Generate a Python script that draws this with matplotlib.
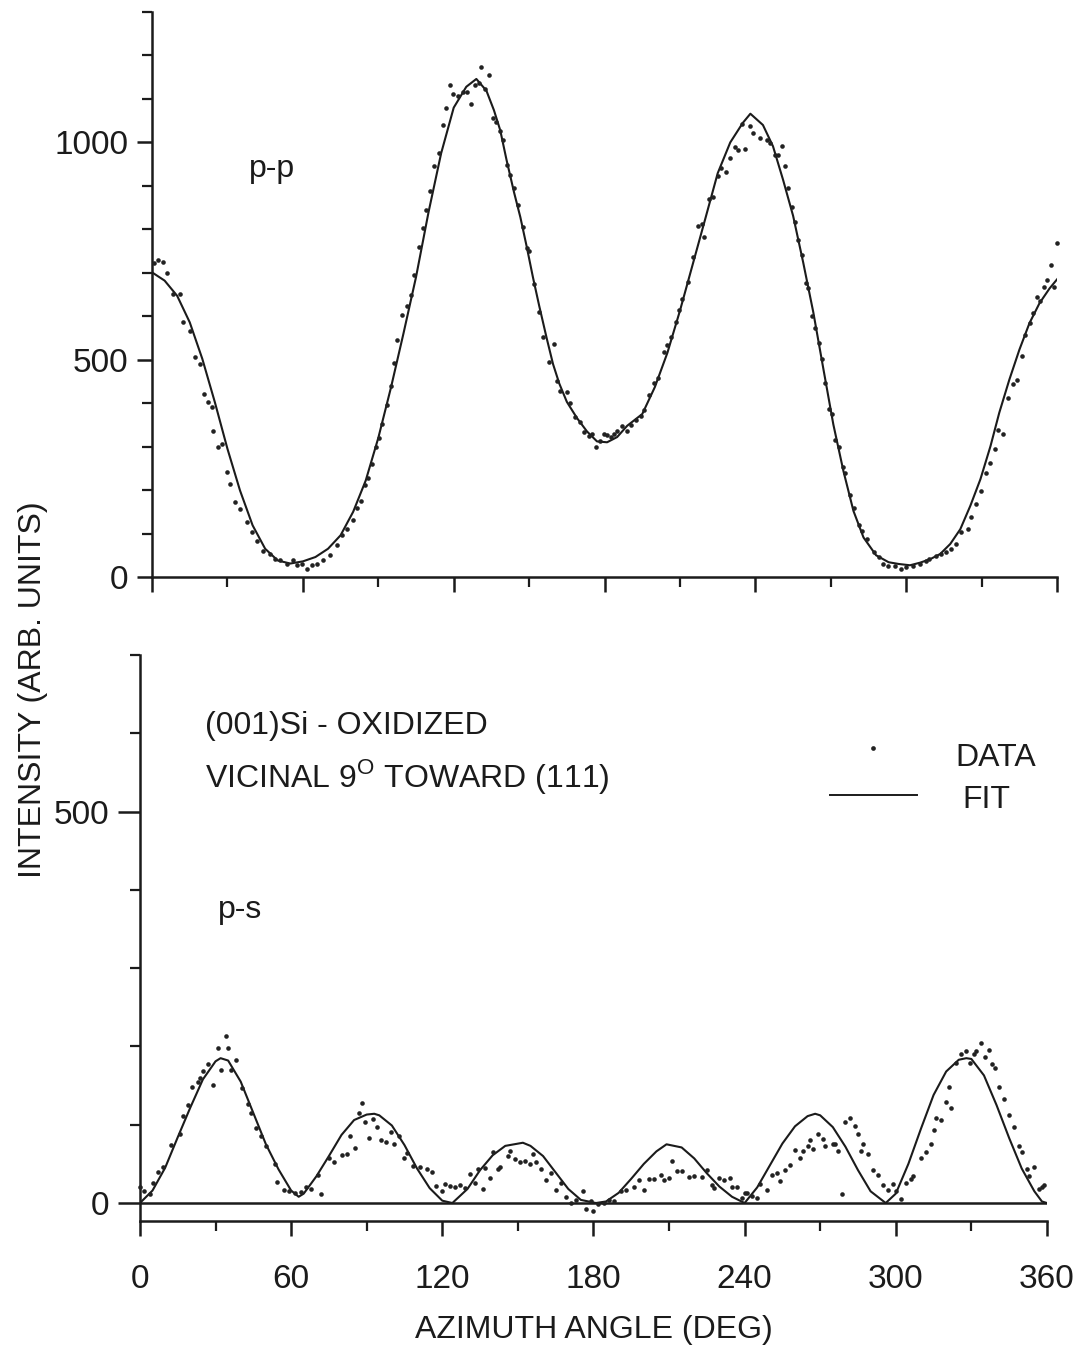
import matplotlib

matplotlib.use("Agg")
import matplotlib.pyplot as plt
from matplotlib.lines import Line2D
from matplotlib.ticker import MultipleLocator

# ---- p-p panel: measured points and fit -----------------------------------
PP_ANGLE = [
    0.7, 2.5, 4.5, 6, 8.5, 11, 12.5, 15, 17, 19, 20.5, 22.4, 23.7, 24.4, 26.4, 27.7,
    29.7, 31, 33, 35, 37.7, 39.6, 41.6, 44, 47, 49, 51, 53.6, 56, 57.6, 59.5, 61.5,
    63.5, 65.5, 68, 70.8, 73.5, 75.5, 77.5, 80, 81.6, 83, 84.6, 86, 87.5, 89,
    90.3, 91.6, 93.6, 95, 96.3, 97.6, 99.6, 101.6, 103, 104.3, 106, 107.6, 109,
    110.7, 112, 114, 115.6, 117, 118.4, 119.7, 121.7, 123.7, 125.3, 126.7, 128.4,
    130, 131, 132.4, 134, 135.5, 137, 138.4, 139.7, 141, 142.4, 144, 145.7, 147.5,
    149, 150, 152, 154, 155.7, 158, 159.7, 161, 162.4, 165, 166.4, 168.4, 170.4,
    171.7, 173.7, 175, 176.7, 178, 179.7, 181, 182.7, 183.7, 185, 187, 188.8,
    190.4, 192.4, 194.4, 195.7, 197.7, 199.7, 201.3, 203.5, 205, 206.4, 208.4,
    209.7, 211, 213, 215, 217, 218.8, 219.7, 221.7, 223, 225, 226.4, 228.4, 230,
    231.9, 233.2, 234.5, 235.9, 237.9, 239.2, 241.9, 244.5, 245.8, 247.8, 249.1,
    250.5, 251.8, 253.1, 254.4, 255.8, 257.1, 258.4, 260.2, 261.1, 262.4, 263.8,
    265.1, 266.4, 267.8, 269.1, 270.4, 271.8, 273.1, 274.8, 275.8, 277.5, 279.1,
    281.1, 282.5, 284.5, 287.1, 289.1, 290.7, 292.7, 295.4, 298, 300, 302.6,
    305.3, 307.9, 309.2, 311.9, 313.9, 315.9, 317.9, 319.9, 321.9, 324.6, 325.9,
    327.9, 329.9, 331.9, 333.5, 335.2, 336.6, 338.6, 340.6, 342.5, 343.9, 345.9,
    347.2, 349.2, 350.6, 351.9, 353.3, 354.6, 356, 357.4, 358.7, 360,
]
PP_DATA = [
    722, 730, 724, 700, 651, 651, 586, 567, 506, 490, 421, 402, 391, 337, 299, 307,
    241, 215, 172, 157, 126, 103, 84, 61, 54, 42, 38, 31, 38, 27, 30, 19,
    28, 31, 38, 50, 73, 96, 111, 132, 158, 176, 211, 228, 259, 299,
    321, 351, 395, 439, 492, 545, 602, 624, 650, 694, 760, 804, 844,
    888, 945, 976, 1039, 1079, 1132, 1112, 1107, 1116, 1117, 1089, 1133,
    1137, 1174, 1124, 1154, 1057, 1047, 1026, 1006, 947, 925, 894, 855, 806,
    758, 749, 675, 610, 552, 495, 535, 451, 429, 426, 400, 369, 356,
    334, 325, 329, 299, 313, 330, 326, 323, 330, 335, 348, 335,
    349, 362, 371, 384, 419, 446, 459, 517, 534, 552, 587,
    614, 640, 679, 737, 808, 812, 782, 869, 874, 922, 940, 931, 963,
    990, 982, 1043, 985, 1037, 1021, 1009, 1006, 998, 971, 971,
    991, 945, 894, 852, 818, 776, 742, 677, 665, 601, 573,
    539, 501, 447, 386, 375, 315, 299, 254, 239, 189, 158,
    120, 105, 88, 57, 46, 30, 26, 26, 18, 22, 26,
    30, 37, 41, 49, 53, 57, 64, 76, 103, 110, 137,
    167, 198, 240, 262, 294, 339, 328, 411, 443, 454, 508,
    557, 584, 607, 645, 635, 668, 683, 718, 668, 768,
]
PP_FIT_ANGLE = [
    0, 5, 10, 15, 20, 25, 30, 35, 40, 45, 50, 55, 60, 65, 70, 75, 80, 85, 90, 95,
    100, 105, 110, 115, 120, 125, 129, 133, 136, 138.5, 141, 144, 146.5, 149,
    151.5, 154, 157, 159.5, 162, 165, 169, 173, 177, 181, 185, 189, 195, 200,
    205, 210, 215, 220, 225, 230, 235, 238, 243, 247, 251, 255, 259, 263, 267,
    271, 275, 279, 283, 288, 293, 297, 301.5, 305.5, 309.5, 313.5, 317.5, 321.5,
    325.5, 329.5, 333.5, 337, 341, 345, 349, 353, 357, 360,
]
PP_FIT = [
    701, 682, 647, 586, 502, 402, 295, 199, 119, 65, 38, 31, 36, 46, 65, 96, 150, 222, 320, 435,
    560, 690, 840, 975, 1080, 1128, 1146, 1119, 1074, 1028, 960, 885, 828, 761,
    690, 624, 549, 490, 445, 403, 366, 335, 312, 310, 322, 348, 375, 437,
    516, 613, 718, 823, 929, 1000, 1045, 1066, 1040, 991, 914, 831, 724, 610, 480,
    351, 244, 152, 91, 50, 34, 30, 27, 33, 41, 53, 76, 110,
    164, 225, 301, 378, 454, 523, 584, 630, 664, 685,
]

# ---- p-s panel: measured points and fit -----------------------------------
PS_ANGLE = [
    0, 1.5, 4, 5, 7, 9, 12.5, 16, 17, 19, 20.5, 23, 24, 25, 27, 29, 31, 32, 34, 35,
    36, 38, 40.5, 43, 44, 46, 48, 50, 53.5, 54.5, 57, 59, 61.5, 64, 66, 68, 70.5,
    72, 75, 77, 80, 82, 83.5, 85.5, 87, 88, 89.5, 91, 92.5, 94, 95.5, 97.5, 99.5,
    101, 103, 105, 106, 108.5, 111, 114, 116, 117.5, 120, 121, 123, 125, 127, 129,
    131, 133, 134, 136, 137, 139, 140, 142, 143, 146, 147, 149, 151, 153, 155,
    156, 157, 159, 161, 163, 165, 167, 169, 171, 173, 176, 177, 179, 180, 182,
    184, 186, 188, 191, 193, 196, 198, 200, 202, 204, 207, 208, 210, 211, 213,
    215, 218, 220, 223, 225, 227, 228, 230, 232, 234, 235, 237, 239, 240, 241,
    243, 245, 246, 249, 251, 253, 254, 256, 258, 260, 262, 263, 265, 266, 267,
    269, 271, 272, 275, 276, 277, 278.5, 280, 282, 284, 285, 286, 287, 289, 291,
    293, 295, 297, 299, 300, 302, 304, 306, 307, 310, 312, 314, 315, 316, 318,
    320, 321, 322, 324, 326, 328, 329.5, 331, 332, 334, 335.5, 337, 338, 339.5,
    341, 343, 345, 347, 349, 350, 352, 353, 355, 357, 358, 359,
]
PS_DATA = [
    20, 15, 12, 25, 40, 46, 74, 88, 111, 125, 148, 154, 160, 168, 177, 151, 198, 170, 213, 198,
    170, 183, 147, 126, 115, 96, 86, 73, 50, 27, 17, 15, 13, 14, 20, 18, 36,
    12, 57, 52, 61, 63, 85, 70, 115, 128, 103, 83, 107, 97, 80, 78, 91,
    76, 85, 57, 64, 47, 46, 44, 39, 22, 15, 24, 22, 20, 23, 19,
    37, 26, 44, 18, 45, 32, 65, 44, 46, 60, 66, 56, 52, 54, 50,
    63, 52, 44, 29, 38, 16, 25, 8, 0, 4, 15, -8, 3, -10, -1,
    0, 4, 2, 15, 17, 20, 29, 16, 31, 31, 36, 30, 32, 54, 41,
    41, 33, 35, 33, 42, 23, 19, 32, 30, 32, 21, 20, 6, 13, 13,
    9, 7, 24, 17, 36, 38, 28, 42, 48, 68, 57, 66, 73, 80, 69,
    88, 82, 73, 76, 76, 66, 12, 103, 109, 99, 88, 67, 76, 63, 42,
    36, 23, 17, 24, 15, 5, 26, 31, 35, 57, 65, 76, 93, 108, 106,
    129, 148, 121, 179, 190, 194, 179, 190, 194, 205, 187, 196, 178, 172,
    148, 133, 112, 97, 73, 65, 43, 35, 46, 18, 20, 23,
]
PS_FIT_ANGLE = [
    0, 5, 10, 15, 20, 25, 30, 32, 35, 40, 45, 50, 55, 60, 63, 65, 70, 75, 80, 85,
    90, 93, 95, 100, 105, 110, 115, 120, 124, 130, 135, 140, 145, 152, 155, 160,
    165, 170, 175, 181, 185, 190, 195, 200, 205, 209, 215, 220, 225, 230, 235,
    240, 245, 250, 255, 260, 265, 268, 270, 275, 280, 285, 290, 296, 300, 305,
    310, 315, 320, 325, 328, 330, 335, 340, 345, 350, 355, 358, 360,
]
PS_FIT = [
    0, 16, 45, 84, 122, 158, 181, 185, 182, 155, 115, 75, 43, 16, 8, 12, 34, 60, 87, 106,
    113, 114, 112, 99, 74, 44, 19, 3, 0, 18, 42, 61, 73, 77, 73, 60,
    39, 18, 4, 0, 2, 13, 31, 50, 66, 75, 71, 57, 38, 21, 8,
    0, 20, 48, 76, 98, 111, 114, 112, 97, 72, 42, 15, 0, 12, 50,
    95, 138, 168, 183, 185, 184, 163, 125, 83, 44, 15, 2, 0,
]

INK = "#1b1b1b"
DOT = "#222222"
FONT = 23

plt.rcParams.update(
    {
        "font.family": ["Liberation Sans", "DejaVu Sans"],
        "mathtext.fontset": "custom",
        "mathtext.rm": "Liberation Sans",
        "axes.edgecolor": INK,
        "axes.linewidth": 1.8,
        "xtick.color": INK,
        "ytick.color": INK,
        "xtick.labelcolor": INK,
        "ytick.labelcolor": INK,
    }
)

fig = plt.figure(figsize=(10.79, 13.51), dpi=100)
fig.patch.set_facecolor("white")

ax_pp = fig.add_axes([0.1409, 0.5729, 0.8388, 0.4182])
ax_ps = fig.add_axes([0.1297, 0.0962, 0.8406, 0.4190])


def style_axes(ax):
    for s in ("top", "right"):
        ax.spines[s].set_visible(False)
    ax.set_xlim(0, 360)
    ax.xaxis.set_major_locator(MultipleLocator(60))
    ax.xaxis.set_minor_locator(MultipleLocator(30))
    ax.yaxis.set_major_locator(MultipleLocator(500))
    ax.yaxis.set_minor_locator(MultipleLocator(100))
    ax.tick_params(axis="both", which="major", direction="out", length=11, width=1.8,
                   labelsize=24)
    ax.tick_params(axis="both", which="minor", direction="out", length=7, width=1.6)
    ax.tick_params(axis="y", which="major", pad=6)


# --- p-p ------------------------------------------------------------------
style_axes(ax_pp)
ax_pp.set_ylim(0, 1300)
ax_pp.plot(PP_FIT_ANGLE, PP_FIT, color=INK, lw=1.5, zorder=3)
ax_pp.plot(PP_ANGLE, PP_DATA, "o", ms=3.3, color=DOT, mec="none",
           clip_on=False, zorder=4)
ax_pp.tick_params(axis="x", labelbottom=False)
ax_pp.text(0.1326, 0.722, "p-p", transform=ax_pp.transAxes, fontsize=FONT,
           ha="center", va="center", color=INK)

# --- p-s ------------------------------------------------------------------
style_axes(ax_ps)
ax_ps.set_ylim(-23, 700)
ax_ps.axhline(0, color=INK, lw=1.8, zorder=2)
ax_ps.plot(PS_FIT_ANGLE, PS_FIT, color=INK, lw=1.5, zorder=3)
ax_ps.plot(PS_ANGLE, PS_DATA, "o", ms=3.3, color=DOT, mec="none",
           clip_on=False, zorder=4)
ax_ps.set_yticks([0, 500])
ax_ps.tick_params(axis="y", which="major", length=16)
ax_ps.tick_params(axis="x", which="major", pad=20)
ax_ps.set_xlabel("AZIMUTH ANGLE (DEG)", fontsize=FONT, color=INK, labelpad=14)

fig.text(0.19, 0.4567, "(001)Si - OXIDIZED", fontsize=FONT, color=INK,
         ha="left", va="baseline")
fig.text(0.19, 0.4175, r"VICINAL 9$^{\mathrm{O}}$ TOWARD (111)", fontsize=FONT,
         color=INK, ha="left", va="baseline")
fig.text(0.2224, 0.3264, "p-s", fontsize=FONT, color=INK, ha="center", va="center")

# --- legend (drawn by hand, dot above the line) -----------------------------
fig.add_artist(Line2D([0.809], [0.4463], marker="o", ms=3.4, color=DOT,
                      mec="none", transform=fig.transFigure))
fig.add_artist(Line2D([0.769, 0.850], [0.4115, 0.4115], color=INK, lw=1.4,
                      transform=fig.transFigure))
fig.text(0.885, 0.4390, "DATA", fontsize=FONT, color=INK, ha="left", va="center")
fig.text(0.892, 0.4075, "FIT", fontsize=FONT, color=INK, ha="left", va="center")

fig.text(0.0306, 0.4893, "INTENSITY (ARB. UNITS)", fontsize=FONT, color=INK,
         rotation=90, ha="center", va="center")

fig.savefig("out.png", dpi=100, facecolor="white")
